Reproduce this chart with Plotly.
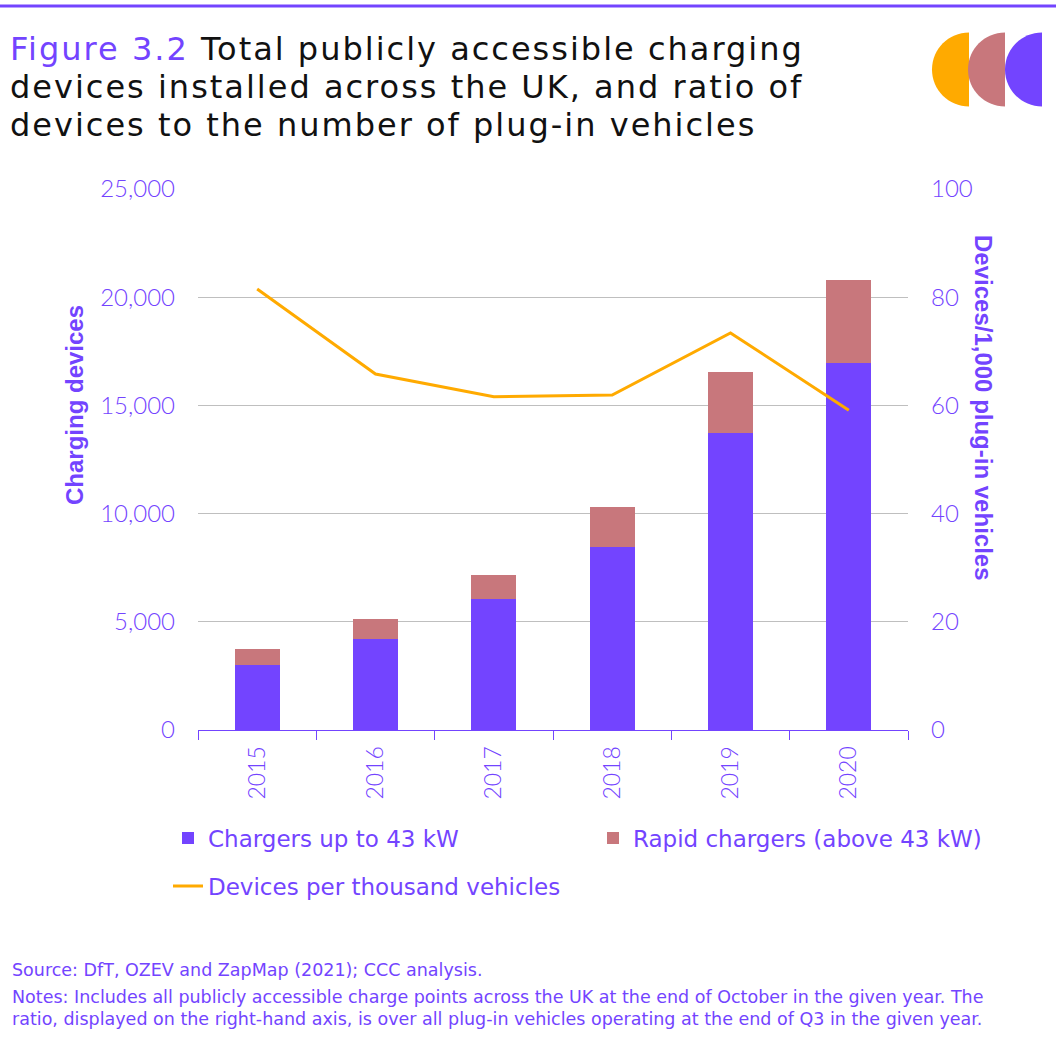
import plotly.graph_objects as go

years = ["2015", "2016", "2017", "2018", "2019", "2020"]
slow_chargers = [3000, 4220, 6070, 8460, 13720, 16960]
rapid_chargers = [730, 895, 1105, 1845, 2820, 3835]
devices_per_thousand = [81.5, 65.8, 61.6, 61.9, 73.4, 59.1]

PURPLE = "#7344FF"
PINK = "#C8777C"
ORANGE = "#FFAA00"
TICKFONT = "Lato"
TEXTFONT = "DejaVu Sans"
BOLDFONT = "Liberation Sans"

W, H = 1056, 1042
L, R, T, B = 198, 908, 189, 730


def px(x):
    return (x - L) / (R - L)


def py(y):
    return (B - y) / (B - T)


fig = go.Figure()
fig.add_trace(go.Bar(x=years, y=slow_chargers, name="Chargers up to 43 kW",
                     marker=dict(color=PURPLE, line=dict(width=0)), legend="legend"))
fig.add_trace(go.Bar(x=years, y=rapid_chargers, name="Rapid chargers (above 43 kW)",
                     marker=dict(color=PINK, line=dict(width=0)), legend="legend"))
fig.add_trace(go.Scatter(x=years, y=devices_per_thousand, name="Devices per thousand vehicles",
                         mode="lines", line=dict(color=ORANGE, width=3), yaxis="y2",
                         legend="legend2"))

shapes = []
shapes.append(dict(type="line", xref="paper", yref="paper", x0=px(0), x1=px(W),
                   y0=py(6), y1=py(6), line=dict(color=PURPLE, width=3)))


def half_disc(xflat, cy, r, color):
    k = 0.5523
    xl = xflat - r
    pts = [
        f"M {px(xflat)},{py(cy - r)}",
        f"C {px(xflat - k * r)},{py(cy - r)} {px(xl)},{py(cy - k * r)} {px(xl)},{py(cy)}",
        f"C {px(xl)},{py(cy + k * r)} {px(xflat - k * r)},{py(cy + r)} {px(xflat)},{py(cy + r)}",
        "Z",
    ]
    return dict(type="path", xref="paper", yref="paper", path=" ".join(pts),
                fillcolor=color, line=dict(width=0))


shapes.append(half_disc(969, 69.5, 37, ORANGE))
shapes.append(half_disc(1005, 69.5, 37, PINK))
shapes.append(half_disc(1042, 69.5, 37, PURPLE))

title_lines = [
    f"<span style='color:{PURPLE}'>Figure 3.2</span> Total publicly accessible charging",
    "devices installed across the UK, and ratio of",
    "devices to the number of plug-in vehicles",
]
annotations = []
for i, t in enumerate(title_lines):
    annotations.append(dict(text=f"<span style='letter-spacing:2px'>{t}</span>",
                            xref="paper", yref="paper", x=px(8), y=py(49 + 38 * i),
                            xanchor="left", yanchor="middle", showarrow=False,
                            font=dict(family=TEXTFONT, size=32, color="#111111")))

annotations.append(dict(text="Charging devices", xref="paper", yref="paper",
                        x=px(74), y=py(405), textangle=-90, showarrow=False,
                        xanchor="center", yanchor="middle",
                        font=dict(family=BOLDFONT, size=24, color=PURPLE, weight="bold")))
annotations.append(dict(text="Devices/1,000 plug-in vehicles", xref="paper", yref="paper",
                        x=px(984), y=py(408), textangle=90, showarrow=False,
                        xanchor="center", yanchor="middle",
                        font=dict(family=BOLDFONT, size=24, color=PURPLE, weight="bold")))

footer = [
    ("Source: DfT, OZEV and ZapMap (2021); CCC analysis.", 970),
    ("Notes: Includes all publicly accessible charge points across the UK at the end of October in the given year. The", 997),
    ("ratio, displayed on the right-hand axis, is over all plug-in vehicles operating at the end of Q3 in the given year.", 1019),
]
for t, y in footer:
    annotations.append(dict(text=t, xref="paper", yref="paper", x=px(10), y=py(y),
                            xanchor="left", yanchor="middle", showarrow=False,
                            font=dict(family=TEXTFONT, size=17.5, color=PURPLE)))

fig.update_layout(
    width=W, height=H,
    margin=dict(l=L, r=W - R, t=T, b=H - B, autoexpand=False),
    paper_bgcolor="white", plot_bgcolor="white",
    barmode="stack", bargap=0.62,
    font=dict(family=TICKFONT, color=PURPLE),
    xaxis=dict(type="category", tickangle=-90, tickson="boundaries", ticks="outside",
               ticklen=9, tickcolor=PURPLE, showline=True, linecolor=PURPLE, linewidth=1,
               tickfont=dict(family=TICKFONT, size=23, color=PURPLE, weight=300),
               ticklabelstandoff=6, showgrid=False),
    yaxis=dict(range=[0, 25000], tickvals=[0, 5000, 10000, 15000, 20000, 25000],
               ticktext=["0", "5,000", "10,000", "15,000", "20,000", "25,000"],
               showgrid=True, gridcolor="#BFBFBF", gridwidth=1, zeroline=False,
               tickfont=dict(family=TICKFONT, size=24, color=PURPLE, weight=300),
               ticklabelstandoff=22),
    yaxis2=dict(range=[0, 100], tickvals=[0, 20, 40, 60, 80, 100], overlaying="y", side="right",
                showgrid=False, zeroline=False,
                tickfont=dict(family=TICKFONT, size=24, color=PURPLE, weight=300),
                ticklabelstandoff=22),
    legend=dict(orientation="h", x=px(168), y=py(838), xanchor="left", yanchor="middle",
                font=dict(family=TEXTFONT, size=23, color=PURPLE), entrywidth=380,
                entrywidthmode="pixels", traceorder="normal", bgcolor="rgba(0,0,0,0)"),
    legend2=dict(orientation="h", x=px(168), y=py(886), xanchor="left", yanchor="middle",
                 font=dict(family=TEXTFONT, size=23, color=PURPLE), bgcolor="rgba(0,0,0,0)"),
    shapes=shapes,
    annotations=annotations,
)

fig.write_html("out.html", config={"displayModeBar": False},
               post_script="document.body.style.margin='0';")
